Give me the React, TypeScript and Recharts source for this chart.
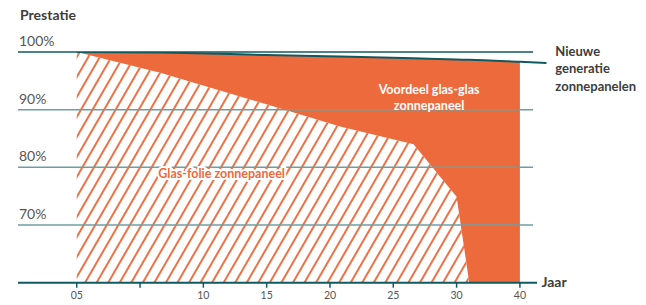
import React from 'react';
import {
  ComposedChart,
  Area,
  Line,
  XAxis,
  YAxis,
  ReferenceLine,
  ReferenceDot,
} from 'recharts';

// x = position on the year axis (0 = "05", 35 = "40")
const years = [0, 6.6, 12.9, 20.8, 26.6, 30.0, 31.0, 35, 37.1];
const glasFolie = [100, 96.4, 92.3, 87.1, 84.0, 74.9, 60, null, null];
const nieuweGeneratie = [100, 99.9, 99.6, 99.2, 98.9, 98.7, 98.65, 98.3, 98.1];
const voordeelEinde = 35;

const xTicks = [0, 5, 10, 15, 20, 25, 30, 35];
const xTickLabels = ['05', '', '10', '15', '20', '25', '30', '40'];
const yGrid = [100, 90, 80, 70];
const yGridLabels = ['100%', '90%', '80%', '70%'];

const ORANGE = '#ec6a3c';
const TEAL_DARK = '#0f5a61';
const TEAL_GRID = '#6c9fa4';
const TEXT_DARK = '#3d3d3d';
const FONT = 'Lato, "Open Sans", sans-serif';

const X_MIN = -4.64;
const X_MAX = 37.14;

const data = years.map((x, i) => {
  const low = glasFolie[i] ?? (x <= voordeelEinde ? 60 : null);
  const high = x <= voordeelEinde ? nieuweGeneratie[i] : null;
  return {
    x,
    folie: glasFolie[i],
    nieuw: nieuweGeneratie[i],
    voordeel: low != null && high != null ? [low, high] : null,
  };
});

const multiLine = (lines: string[], opts: any) => (props: any) => {
  const { viewBox } = props;
  return (
    <text
      x={viewBox.x}
      y={viewBox.y}
      textAnchor={opts.anchor || 'start'}
      fontFamily={FONT}
      fontSize={opts.size}
      fontWeight={opts.weight || 700}
      fill={opts.fill}
      stroke={opts.stroke || 'none'}
      strokeWidth={opts.strokeWidth || 0}
      paintOrder="stroke"
    >
      {lines.map((l, i) => (
        <tspan key={i} x={viewBox.x} dy={i === 0 ? 0 : opts.lh}>
          {l}
        </tspan>
      ))}
    </text>
  );
};

const gridLabel = (text: string) => (props: any) => {
  const { viewBox } = props;
  return (
    <text x={viewBox.x + 1} y={viewBox.y - 6} fontFamily={FONT} fontSize={14} fill="#555">
      {text}
    </text>
  );
};

const App: React.FC = () => {
  return (
    <div style={{ width: 646, height: 305, margin: '-8px 0 0 -8px' }}>
      <ComposedChart
        width={646}
        height={305}
        data={data}
        margin={{ top: 52, right: 99, left: 18, bottom: 0 }}
      >
        <defs>
          <pattern
            id="hatch"
            patternUnits="userSpaceOnUse"
            width={10}
            height={10}
            patternTransform="rotate(30)"
          >
            <line x1={5} y1={0} x2={5} y2={10} stroke={ORANGE} strokeWidth={1.9} />
          </pattern>
        </defs>
        <XAxis
          dataKey="x"
          type="number"
          domain={[X_MIN, X_MAX]}
          allowDataOverflow
          ticks={xTicks}
          tickFormatter={(v: number) => xTickLabels[xTicks.indexOf(v)] ?? ''}
          axisLine={false}
          tickLine={{ stroke: TEAL_DARK, strokeWidth: 1.5 }}
          tickSize={5}
          tickMargin={4}
          height={22.3}
          tick={{ fontSize: 10.5, fill: '#555', fontFamily: FONT }}
        />
        <YAxis hide type="number" domain={[60, 100]} allowDataOverflow />
        {yGrid.map((v, i) => (
          <ReferenceLine
            key={v}
            segment={[
              { x: X_MIN, y: v },
              { x: 36.04, y: v },
            ]}
            stroke={i === 0 ? TEAL_DARK : TEAL_GRID}
            strokeWidth={1.5}
            ifOverflow="visible"
            label={gridLabel(yGridLabels[i])}
          />
        ))}
        <Area
          type="linear"
          dataKey="folie"
          baseValue={60}
          fill="url(#hatch)"
          fillOpacity={1}
          stroke="none"
          isAnimationActive={false}
        />
        <Area
          type="linear"
          dataKey="voordeel"
          fill={ORANGE}
          fillOpacity={1}
          stroke="none"
          isAnimationActive={false}
        />
        <Line
          type="monotone"
          dataKey="nieuw"
          stroke={TEAL_DARK}
          strokeWidth={2}
          dot={false}
          isAnimationActive={false}
        />
        <ReferenceLine
          segment={[
            { x: X_MIN, y: 60 },
            { x: 36.36, y: 60 },
          ]}
          stroke={TEAL_DARK}
          strokeWidth={2}
          ifOverflow="visible"
        />
        <ReferenceDot
          x={27.83}
          y={92.72}
          r={0}
          fill="none"
          stroke="none"
          ifOverflow="visible"
          label={multiLine(['Voordeel glas-glas', 'zonnepaneel'], {
            anchor: 'middle',
            size: 12.5,
            fill: '#fff',
            lh: 16,
          })}
        />
        <ReferenceDot
          x={11.44}
          y={78.15}
          r={0}
          fill="none"
          stroke="none"
          ifOverflow="visible"
          label={multiLine(['Glas-folie zonnepaneel'], {
            anchor: 'middle',
            size: 12.5,
            fill: ORANGE,
            stroke: '#fff',
            strokeWidth: 4,
          })}
        />
        <ReferenceDot
          x={-4.48}
          y={105.5}
          r={0}
          fill="none"
          stroke="none"
          ifOverflow="visible"
          label={multiLine(['Prestatie'], { size: 14, fill: TEXT_DARK })}
        />
        <ReferenceDot
          x={37.8}
          y={99.3}
          r={0}
          fill="none"
          stroke="none"
          ifOverflow="visible"
          label={multiLine(['Nieuwe', 'generatie', 'zonnepanelen'], {
            size: 13,
            fill: TEXT_DARK,
            lh: 17.3,
          })}
        />
        <ReferenceDot
          x={36.7}
          y={59.2}
          r={0}
          fill="none"
          stroke="none"
          ifOverflow="visible"
          label={multiLine(['Jaar'], { size: 14, fill: TEXT_DARK })}
        />
      </ComposedChart>
    </div>
  );
};

export default App;
